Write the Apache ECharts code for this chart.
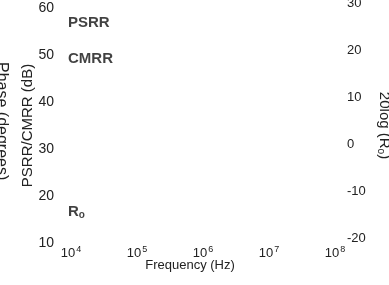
<!DOCTYPE html>
<html>
<head>
<meta charset="utf-8">
<script src="https://cdn.jsdelivr.net/npm/echarts@6/dist/echarts.min.js"></script>
<style>
html, body { margin: 0; padding: 0; background: #fff; }
#main { width: 389px; height: 285px; }
</style>
</head>
<body>
<div id="main"></div>
<script>
// tick values
var freqExponents = [4, 5, 6, 7, 8];
var dbTicks = [10, 20, 30, 40, 50, 60];
var roTicks = [-20, -10, 0, 10, 20, 30];

// curve labels (placed at frequency / dB)
var curveNames = ['PSRR', 'CMRR', 'Ro'];
var curveFreq = [1e4, 1e4, 1e4];
var curveDb = [56.8, 49.1, 16.6];

var FONT = 'Liberation Sans';
var chart = echarts.init(document.getElementById('main'));

var option = {
    backgroundColor: '#fff',
    animation: false,
    textStyle: { fontFamily: FONT, color: '#222' },
    grid: { left: 71, right: 54, top: 8, bottom: 42, outerBoundsMode: 'none' },
    xAxis: {
        type: 'log',
        logBase: 10,
        min: Math.pow(10, freqExponents[0]),
        max: Math.pow(10, freqExponents[freqExponents.length - 1]),
        name: 'Frequency (Hz)',
        nameLocation: 'middle',
        nameGap: 16,
        nameMoveOverlap: false,
        nameTextStyle: { fontFamily: FONT, fontSize: 13, color: '#222', padding: [0, 26, 0, 0] },
        axisLine: { show: false },
        axisTick: { show: false },
        splitLine: { show: false },
        axisLabel: {
            margin: 2,
            formatter: function (v) {
                var e = Math.round(Math.log10(v));
                return '{b|10}{s|' + e + '}';
            },
            rich: {
                b: { fontFamily: FONT, fontSize: 13, color: '#222' },
                s: { fontFamily: FONT, fontSize: 9, color: '#222', padding: [0, 0, 8, 1] }
            }
        }
    },
    yAxis: [{
        type: 'value',
        min: dbTicks[0],
        max: dbTicks[dbTicks.length - 1],
        interval: 10,
        name: 'PSRR/CMRR (dB)',
        nameLocation: 'middle',
        nameRotate: 90,
        nameGap: 36,
        nameMoveOverlap: false,
        nameTextStyle: { fontFamily: FONT, fontSize: 15, color: '#222' },
        axisLine: { show: false },
        axisTick: { show: false },
        splitLine: { show: false },
        axisLabel: { fontFamily: FONT, fontSize: 14, color: '#222', margin: 17 }
    }, {
        type: 'value',
        position: 'right',
        min: roTicks[0],
        max: roTicks[roTicks.length - 1],
        interval: 10,
        name: '{n|20log (R}{sub|o}{n|)}',
        nameLocation: 'middle',
        nameRotate: -90,
        nameGap: 41,
        nameMoveOverlap: false,
        nameTextStyle: {
            rich: {
                n: { fontFamily: FONT, fontSize: 15, color: '#222' },
                sub: { fontFamily: FONT, fontSize: 10, color: '#222', padding: [7, 0, 0, 0] }
            }
        },
        axisLine: { show: false },
        axisTick: { show: false },
        splitLine: { show: false },
        axisLabel: {
            fontFamily: FONT, fontSize: 13, color: '#222', margin: 12,
            verticalAlign: 'bottom', lineHeight: 10
        }
    }],
    graphic: [{
        type: 'text',
        left: -7,
        top: 62,
        rotation: -Math.PI / 2,
        style: { text: 'Phase (degrees)', fontFamily: FONT, fontSize: 16, fill: '#222' }
    }],
    series: [{
        type: 'scatter',
        symbolSize: 0,
        data: curveNames.map(function (n, i) { return [curveFreq[i], curveDb[i], n]; }),
        label: {
            show: true,
            position: 'inside',
            align: 'left',
            offset: [-3, 0],
            formatter: function (p) {
                var n = p.value[2];
                if (n === 'Ro') return '{big|R}{sub|o}';
                return '{big|' + n + '}';
            },
            rich: {
                big: { fontFamily: FONT, fontSize: 15, fontWeight: 'bold', color: '#111' },
                sub: { fontFamily: FONT, fontSize: 10, fontWeight: 'bold', color: '#111', padding: [7, 0, 0, 0] }
            }
        }
    }]
};

chart.setOption(option);
</script>
</body>
</html>
